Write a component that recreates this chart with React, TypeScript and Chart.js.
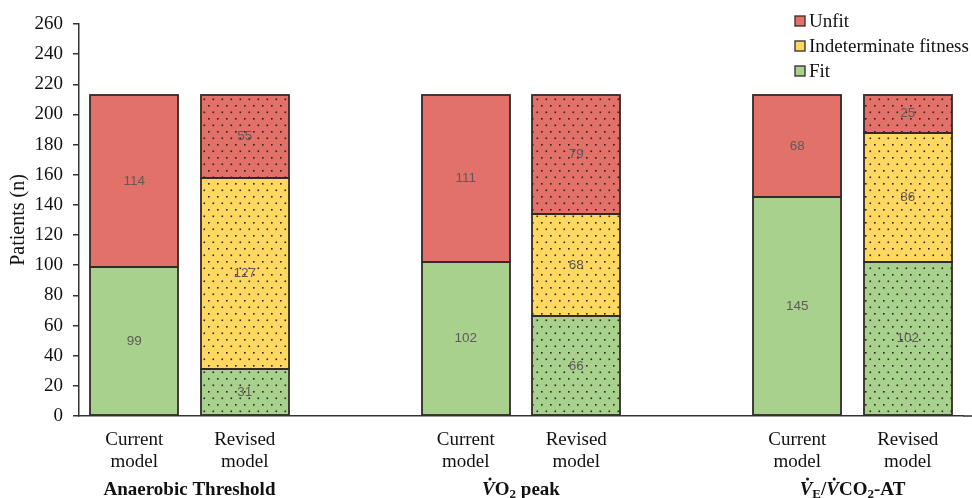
import React, { useEffect, useRef } from 'react';
import { Chart, registerables } from 'chart.js';

Chart.register(...registerables);

// ---- data ----
const categories: (string | string[])[] = [
  ['Current', 'model'], ['Revised', 'model'], '',
  ['Current', 'model'], ['Revised', 'model'], '',
  ['Current', 'model'], ['Revised', 'model'],
];
const fitValues = [99, 31, null, 102, 66, null, 145, 102];
const indeterminateValues = [null, 127, null, null, 68, null, null, 86];
const unfitValues = [114, 55, null, 111, 79, null, 68, 25];
const revisedFlags = [false, true, false, false, true, false, false, true];
const seriesNames = ['Fit', 'Indeterminate fitness', 'Unfit'];
const yMin = 0;
const yMax = 260;
const yStep = 20;
const yTitle = 'Patients (n)';

type Run = { t: string; it?: boolean; sub?: boolean; dot?: boolean };
const groupLabels: Run[][] = [
  [{ t: 'Anaerobic Threshold' }],
  [{ t: 'V', it: true, dot: true }, { t: 'O' }, { t: '2', sub: true }, { t: ' peak' }],
  [
    { t: 'V', it: true, dot: true }, { t: 'E', sub: true }, { t: '/' },
    { t: 'V', it: true, dot: true }, { t: 'CO' }, { t: '2', sub: true }, { t: '-AT' },
  ],
];
const groupCategoryPairs = [[0, 1], [3, 4], [6, 7]];

// ---- styles ----
const RED = '#E2716A';
const YELLOW = '#FFD862';
const GREEN = '#A8D18D';
const EDGE = '#352a2a';
const SERIF = '"Liberation Serif", "Times New Roman", serif';

function makePattern(color: string): CanvasPattern | string {
  const c = document.createElement('canvas');
  c.width = 9;
  c.height = 13;
  const g = c.getContext('2d');
  if (!g) return color;
  g.fillStyle = color;
  g.fillRect(0, 0, 9, 13);
  g.fillStyle = 'rgba(35,25,20,0.95)';
  g.fillRect(1, 1, 1.6, 1.6);
  g.fillRect(5.5, 7.5, 1.6, 1.6);
  const p = g.createPattern(c, 'repeat');
  return p || color;
}

const outlineAndLabelPlugin = {
  id: 'outlineAndLabels',
  afterDatasetsDraw(chart: any) {
    const ctx = chart.ctx;
    ctx.save();
    // segment outlines (single crisp line between stacked segments)
    ctx.strokeStyle = EDGE;
    ctx.lineWidth = 1.8;
    chart.data.datasets.forEach((ds: any, di: number) => {
      const meta = chart.getDatasetMeta(di);
      meta.data.forEach((el: any, i: number) => {
        if (ds.data[i] == null) return;
        const l = Math.round(el.x - el.width / 2);
        const r = Math.round(el.x + el.width / 2);
        const t = Math.round(el.y);
        const b = Math.round(el.base);
        ctx.strokeRect(l, t, r - l, b - t);
      });
    });
    // values
    ctx.font = '13.5px "Liberation Sans", Arial, sans-serif';
    ctx.fillStyle = '#5f5a58';
    ctx.textAlign = 'center';
    ctx.textBaseline = 'middle';
    chart.data.datasets.forEach((ds: any, di: number) => {
      const meta = chart.getDatasetMeta(di);
      meta.data.forEach((el: any, i: number) => {
        const v = ds.data[i];
        if (v == null) return;
        ctx.fillText(String(v), el.x, (el.y + el.base) / 2);
      });
    });
    ctx.restore();
  },
};

const extrasPlugin = {
  id: 'extras',
  afterDraw(chart: any) {
    const ctx = chart.ctx;
    const area = chart.chartArea;
    const xs = chart.scales.x;
    ctx.save();
    // extend x axis line to the right edge
    ctx.strokeStyle = '#333';
    ctx.lineWidth = 1.5;
    ctx.beginPath();
    ctx.moveTo(area.right, area.bottom);
    ctx.lineTo(chart.width, area.bottom);
    ctx.stroke();

    // group labels
    const base = 495;
    groupLabels.forEach((runs, gi) => {
      const [a, b] = groupCategoryPairs[gi];
      const cx = (xs.getPixelForValue(a) + xs.getPixelForValue(b)) / 2;
      const fontOf = (r: Run) =>
        `${r.it ? 'italic ' : ''}bold ${r.sub ? 13 : 19}px ${SERIF}`;
      let total = 0;
      const widths = runs.map((r) => {
        ctx.font = fontOf(r);
        const w = ctx.measureText(r.t).width;
        total += w;
        return w;
      });
      let x = cx - total / 2;
      ctx.fillStyle = '#111';
      ctx.textAlign = 'left';
      ctx.textBaseline = 'alphabetic';
      runs.forEach((r, ri) => {
        ctx.font = fontOf(r);
        ctx.fillText(r.t, x, base + (r.sub ? 3 : 0));
        if (r.dot) {
          ctx.beginPath();
          ctx.arc(x + widths[ri] * 0.62, base - 16, 1.5, 0, Math.PI * 2);
          ctx.fill();
        }
        x += widths[ri];
      });
    });

    // legend (top right)
    const colors = [GREEN, YELLOW, RED];
    const order = [2, 1, 0];
    const rowsY = [21, 46, 71];
    ctx.font = `19px ${SERIF}`;
    ctx.textBaseline = 'middle';
    ctx.textAlign = 'left';
    order.forEach((si, k) => {
      const y = rowsY[k];
      ctx.fillStyle = colors[si];
      ctx.fillRect(795, y - 5, 10, 10);
      ctx.strokeStyle = EDGE;
      ctx.lineWidth = 1.3;
      ctx.strokeRect(795, y - 5, 10, 10);
      ctx.fillStyle = '#111';
      ctx.fillText(seriesNames[si], 809, y + 1);
    });
    ctx.restore();
  },
};

export default function App() {
  const ref = useRef<HTMLCanvasElement | null>(null);
  useEffect(() => {
    if (!ref.current) return;
    const redP = makePattern(RED);
    const yelP = makePattern(YELLOW);
    const grnP = makePattern(GREEN);
    const bg = (solid: string, pat: any) => (c: any) =>
      revisedFlags[c.dataIndex] ? pat : solid;
    const common = {
      borderWidth: 0,
      categoryPercentage: 1,
      barPercentage: 0.8,
    };
    const chart = new Chart(ref.current, {
      type: 'bar',
      data: {
        labels: categories as any,
        datasets: [
          { label: seriesNames[0], data: fitValues as any, backgroundColor: bg(GREEN, grnP), ...common },
          { label: seriesNames[1], data: indeterminateValues as any, backgroundColor: bg(YELLOW, yelP), ...common },
          { label: seriesNames[2], data: unfitValues as any, backgroundColor: bg(RED, redP), ...common },
        ] as any,
      },
      options: {
        animation: false,
        responsive: true,
        maintainAspectRatio: false,
        layout: { padding: { top: 24, right: 9, left: 0, bottom: 0 } },
        plugins: {
          legend: { display: false },
          tooltip: { enabled: false },
        },
        scales: {
          x: {
            stacked: true,
            offset: true,
            grid: { display: false, drawTicks: false },
            border: { display: true, color: '#333', width: 1.5 },
            ticks: {
              color: '#111',
              font: { family: SERIF, size: 19, lineHeight: 1.16 },
              padding: 13,
              maxRotation: 0,
              autoSkip: false,
            },
            afterFit: (s: any) => { s.height = 82; },
          },
          y: {
            stacked: true,
            min: yMin,
            max: yMax,
            grid: {
              display: true,
              drawOnChartArea: false,
              drawTicks: true,
              tickLength: 6,
              color: '#333',
              lineWidth: 1.5,
            },
            border: { display: true, color: '#333', width: 1.5 },
            ticks: {
              stepSize: yStep,
              color: '#111',
              font: { family: SERIF, size: 19 },
              padding: 10,
            },
            title: {
              display: true,
              text: yTitle,
              color: '#111',
              font: { family: SERIF, size: 20 },
              padding: { top: 7, bottom: 0 },
            },
            afterFit: (s: any) => { s.width = 79; },
          },
        },
      } as any,
      plugins: [outlineAndLabelPlugin, extrasPlugin],
    });
    return () => chart.destroy();
  }, []);
  return (
    <div style={{ position: 'fixed', left: 0, top: 0, width: 972, height: 498, background: '#fff' }}>
      <canvas ref={ref} />
    </div>
  );
}
